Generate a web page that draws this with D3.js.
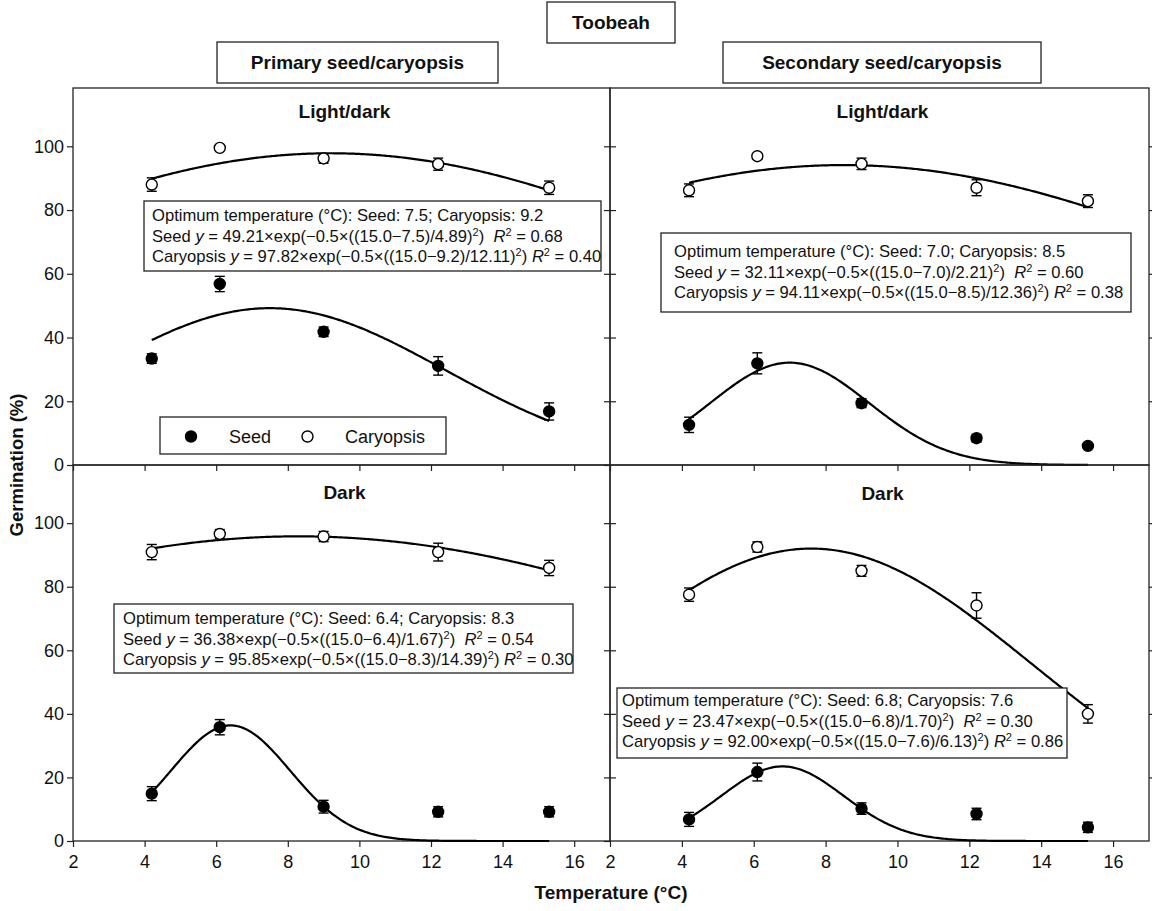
<!DOCTYPE html>
<html>
<head>
<meta charset="utf-8">
<script src="https://cdn.jsdelivr.net/npm/d3@7"></script>
<style>
  body { margin: 0; background: #fff; }
  text { font-family: Arial, "Liberation Sans", sans-serif; fill: #111; }
</style>
</head>
<body>
<div id="chart"></div>
<script>
// temperatures (°C) shared by every panel
const temps = [4.2, 6.1, 9.0, 12.2, 15.3];

// primary seed/caryopsis, light/dark
const priLightSeed = [33.4, 56.8, 41.8, 31.1, 16.8];
const priLightSeedErr = [1.5, 2.4, 1.5, 2.9, 2.7];
const priLightCary = [88.0, 99.5, 96.2, 94.4, 87.0];
const priLightCaryErr = [2.1, 0.8, 1.5, 1.9, 2.1];

// secondary seed/caryopsis, light/dark
const secLightSeed = [12.6, 31.9, 19.4, 8.4, 6.0];
const secLightSeedErr = [2.4, 3.3, 1.4, 1.2, 0.6];
const secLightCary = [86.2, 96.9, 94.5, 87.0, 82.8];
const secLightCaryErr = [2.0, 0.8, 1.8, 2.5, 2.0];

// primary seed/caryopsis, dark
const priDarkSeed = [14.9, 35.8, 10.8, 9.2, 9.2];
const priDarkSeedErr = [2.2, 2.4, 2.0, 1.6, 1.6];
const priDarkCary = [90.9, 96.6, 95.8, 90.9, 85.9];
const priDarkCaryErr = [2.4, 1.4, 1.6, 2.8, 2.4];

// secondary seed/caryopsis, dark
const secDarkSeed = [6.8, 21.7, 10.2, 8.5, 4.3];
const secDarkSeedErr = [2.2, 2.8, 1.8, 1.8, 1.6];
const secDarkCary = [77.5, 92.5, 85.0, 74.1, 40.0];
const secDarkCaryErr = [2.1, 1.6, 1.7, 4.0, 2.9];

// fitted gaussian parameters (panel order: pri light, sec light, pri dark, sec dark)
const seedFitA = [49.21, 32.11, 36.38, 23.47];
const seedFitOpt = [7.5, 7.0, 6.4, 6.8];
const seedFitW = [4.89, 2.21, 1.67, 1.70];
const seedR2 = ["0.68", "0.60", "0.54", "0.30"];
const caryFitA = [97.82, 94.11, 95.85, 92.00];
const caryFitOpt = [9.2, 8.5, 8.3, 7.6];
const caryFitW = [12.11, 12.36, 14.39, 6.13];
const caryR2 = ["0.40", "0.38", "0.30", "0.86"];

const xTicks = [2, 4, 6, 8, 10, 12, 14, 16];
const yTicks = [0, 20, 40, 60, 80, 100];

const svg = d3.select("#chart").append("svg")
    .attr("width", 1152)
    .attr("height", 911);

const panels = [
  {x0: 73, x1: 610, y0: 88, y1: 465, title: "Light/dark", tdy: 30,
   seed: priLightSeed, seedErr: priLightSeedErr, cary: priLightCary, caryErr: priLightCaryErr,
   yLab: true, xLab: false, box: {x: 144, y: 201, w: 457, h: 70, pad: 8, b: 20}, legend: true},
  {x0: 610, x1: 1149, y0: 88, y1: 465, title: "Light/dark", tdy: 30,
   seed: secLightSeed, seedErr: secLightSeedErr, cary: secLightCary, caryErr: secLightCaryErr,
   yLab: false, xLab: false, box: {x: 661, y: 233, w: 470, h: 79, pad: 13, b: 24}},
  {x0: 73, x1: 610, y0: 465, y1: 841, title: "Dark", tdy: 34,
   seed: priDarkSeed, seedErr: priDarkSeedErr, cary: priDarkCary, caryErr: priDarkCaryErr,
   yLab: true, xLab: true, box: {x: 114, y: 604, w: 459, h: 69, pad: 9, b: 20}},
  {x0: 610, x1: 1149, y0: 465, y1: 841, title: "Dark", tdy: 35,
   seed: secDarkSeed, seedErr: secDarkSeedErr, cary: secDarkCary, caryErr: secDarkCaryErr,
   yLab: false, xLab: true, box: {x: 617, y: 688, w: 450, h: 70, pad: 5, b: 18}}
];

// write a line made of plain / italic / superscript pieces
function richLine(sel, parts) {
  let shifted = false;
  parts.forEach(p => {
    const ts = sel.append("tspan").text(p[0]);
    if (p[1] === "i") ts.attr("font-style", "italic");
    if (p[1] === "s") {
      ts.attr("font-size", "11px").attr("dy", -6);
      shifted = true;
    } else if (shifted) {
      ts.attr("dy", 6);
      shifted = false;
    }
  });
}

panels.forEach((p, i) => {
  const x = d3.scaleLinear().domain([2, 17]).range([p.x0, p.x1]);
  const y = d3.scaleLinear().domain([0, 118.3]).range([p.y1, p.y0]);
  const g = svg.append("g");

  // frame
  g.append("rect")
      .attr("x", p.x0).attr("y", p.y0)
      .attr("width", p.x1 - p.x0).attr("height", p.y1 - p.y0)
      .attr("fill", "none").attr("stroke", "#222").attr("stroke-width", 1.3);

  // axes
  const yAx = g.append("g").attr("transform", `translate(${p.x0},0)`)
      .call(d3.axisLeft(y).tickValues(yTicks).tickSize(6).tickSizeOuter(0)
        .tickFormat(p.yLab ? d3.format("d") : ""));
  const yAxR = g.append("g").attr("transform", `translate(${p.x1},0)`)
      .call(d3.axisLeft(y).tickValues(yTicks.slice(1)).tickSize(-6).tickSizeOuter(0).tickFormat(""));
  const xAx = g.append("g").attr("transform", `translate(0,${p.y1})`)
      .call(d3.axisBottom(x).tickValues(xTicks).tickSize(6).tickSizeOuter(0)
        .tickFormat(p.xLab ? d3.format("d") : ""));
  [yAx, yAxR, xAx].forEach(a => {
    a.select(".domain").remove();
    a.selectAll("line").attr("stroke", "#222").attr("stroke-width", 1.2);
    a.selectAll("text").attr("font-size", "18px").attr("fill", "#111")
      .style("font-family", "Arial, 'Liberation Sans', sans-serif");
  });
  yAx.selectAll("text").attr("x", -9);
  xAx.selectAll("text").attr("y", 14);

  // panel title
  g.append("text")
      .attr("x", (p.x0 + p.x1) / 2 + 3).attr("y", p.y0 + p.tdy)
      .attr("text-anchor", "middle")
      .attr("font-size", "19px").attr("font-weight", "bold")
      .text(p.title);

  // fitted curves
  const tSpan = d3.range(temps[0], temps[temps.length - 1] + 0.001, 0.05);
  const line = d3.line().x(d => x(d[0])).y(d => y(d[1]));
  const fits = [[seedFitA[i], seedFitOpt[i], seedFitW[i]], [caryFitA[i], caryFitOpt[i], caryFitW[i]]];
  fits.forEach(f => {
    g.append("path")
        .datum(tSpan.map(t => [t, f[0] * Math.exp(-0.5 * Math.pow((t - f[1]) / f[2], 2))]))
        .attr("d", line)
        .attr("fill", "none").attr("stroke", "#000").attr("stroke-width", 2.2);
  });

  // error bars + points
  [[p.seed, p.seedErr, "#000"], [p.cary, p.caryErr, "#fff"]].forEach(s => {
    const eb = g.append("g").selectAll("g").data(temps).enter().append("g")
        .attr("stroke", "#000").attr("stroke-width", 1.4);
    eb.append("line")
        .attr("x1", d => x(d)).attr("x2", d => x(d))
        .attr("y1", (d, k) => y(s[0][k] - s[1][k])).attr("y2", (d, k) => y(s[0][k] + s[1][k]));
    [-1, 1].forEach(sg => {
      eb.append("line")
          .attr("x1", d => x(d) - 5).attr("x2", d => x(d) + 5)
          .attr("y1", (d, k) => y(s[0][k] + sg * s[1][k]))
          .attr("y2", (d, k) => y(s[0][k] + sg * s[1][k]));
    });
    g.append("g").selectAll("circle").data(temps).enter().append("circle")
        .attr("cx", d => x(d)).attr("cy", (d, k) => y(s[0][k]))
        .attr("r", 5.5)
        .attr("fill", s[2]).attr("stroke", "#000").attr("stroke-width", 1.4);
  });

  // equation box
  const b = p.box;
  g.append("rect")
      .attr("x", b.x).attr("y", b.y).attr("width", b.w).attr("height", b.h)
      .attr("fill", "#fff").attr("stroke", "#222").attr("stroke-width", 1.3);
  const lines = [
    [[`Optimum temperature (°C): Seed: ${seedFitOpt[i].toFixed(1)}; Caryopsis: ${caryFitOpt[i].toFixed(1)}`]],
    [["Seed "], ["y", "i"], [` = ${seedFitA[i].toFixed(2)}×exp(−0.5×((15.0−${seedFitOpt[i].toFixed(1)})/${seedFitW[i].toFixed(2)})`],
     ["2", "s"], [")  "], ["R", "i"], ["2", "s"], [` = ${seedR2[i]}`]],
    [["Caryopsis "], ["y", "i"], [` = ${caryFitA[i].toFixed(2)}×exp(−0.5×((15.0−${caryFitOpt[i].toFixed(1)})/${caryFitW[i].toFixed(2)})`],
     ["2", "s"], [") "], ["R", "i"], ["2", "s"], [` = ${caryR2[i]}`]]
  ];
  lines.forEach((ln, k) => {
    const t = g.append("text")
        .attr("font-size", "16.6px").style("white-space", "pre")
        .attr("x", b.x + b.pad).attr("y", b.y + b.b + k * 20.5);
    richLine(t, ln);
  });

  // legend
  if (p.legend) {
    g.append("rect").attr("x", 160).attr("y", 417).attr("width", 286).attr("height", 37)
        .attr("fill", "#fff").attr("stroke", "#222").attr("stroke-width", 1.3);
    g.append("circle").attr("cx", 191).attr("cy", 436.5).attr("r", 5.5)
        .attr("fill", "#000").attr("stroke", "#000").attr("stroke-width", 1.4);
    g.append("circle").attr("cx", 307.5).attr("cy", 436.5).attr("r", 5.5)
        .attr("fill", "#fff").attr("stroke", "#000").attr("stroke-width", 1.4);
    g.append("text").attr("x", 229).attr("y", 443).attr("font-size", "18px").text("Seed");
    g.append("text").attr("x", 345).attr("y", 443).attr("font-size", "18px").text("Caryopsis");
  }
});

// header boxes
const heads = [
  {label: "Toobeah", x: 547, y: 2, w: 128, h: 41},
  {label: "Primary seed/caryopsis", x: 217, y: 42, w: 281, h: 41},
  {label: "Secondary seed/caryopsis", x: 723, y: 42, w: 318, h: 41}
];
heads.forEach(h => {
  svg.append("rect").attr("x", h.x).attr("y", h.y).attr("width", h.w).attr("height", h.h)
      .attr("fill", "#fff").attr("stroke", "#222").attr("stroke-width", 1.3);
  svg.append("text").attr("x", h.x + h.w / 2).attr("y", h.y + h.h / 2 + 6.5)
      .attr("text-anchor", "middle").attr("font-size", "19px").attr("font-weight", "bold")
      .text(h.label);
});

// axis titles
svg.append("text")
    .attr("transform", "translate(23,465) rotate(-90)")
    .attr("text-anchor", "middle").attr("font-size", "18.5px").attr("font-weight", "bold")
    .text("Germination (%)");
svg.append("text")
    .attr("x", 611).attr("y", 899)
    .attr("text-anchor", "middle").attr("font-size", "19px").attr("font-weight", "bold")
    .text("Temperature (°C)");
</script>
</body>
</html>
